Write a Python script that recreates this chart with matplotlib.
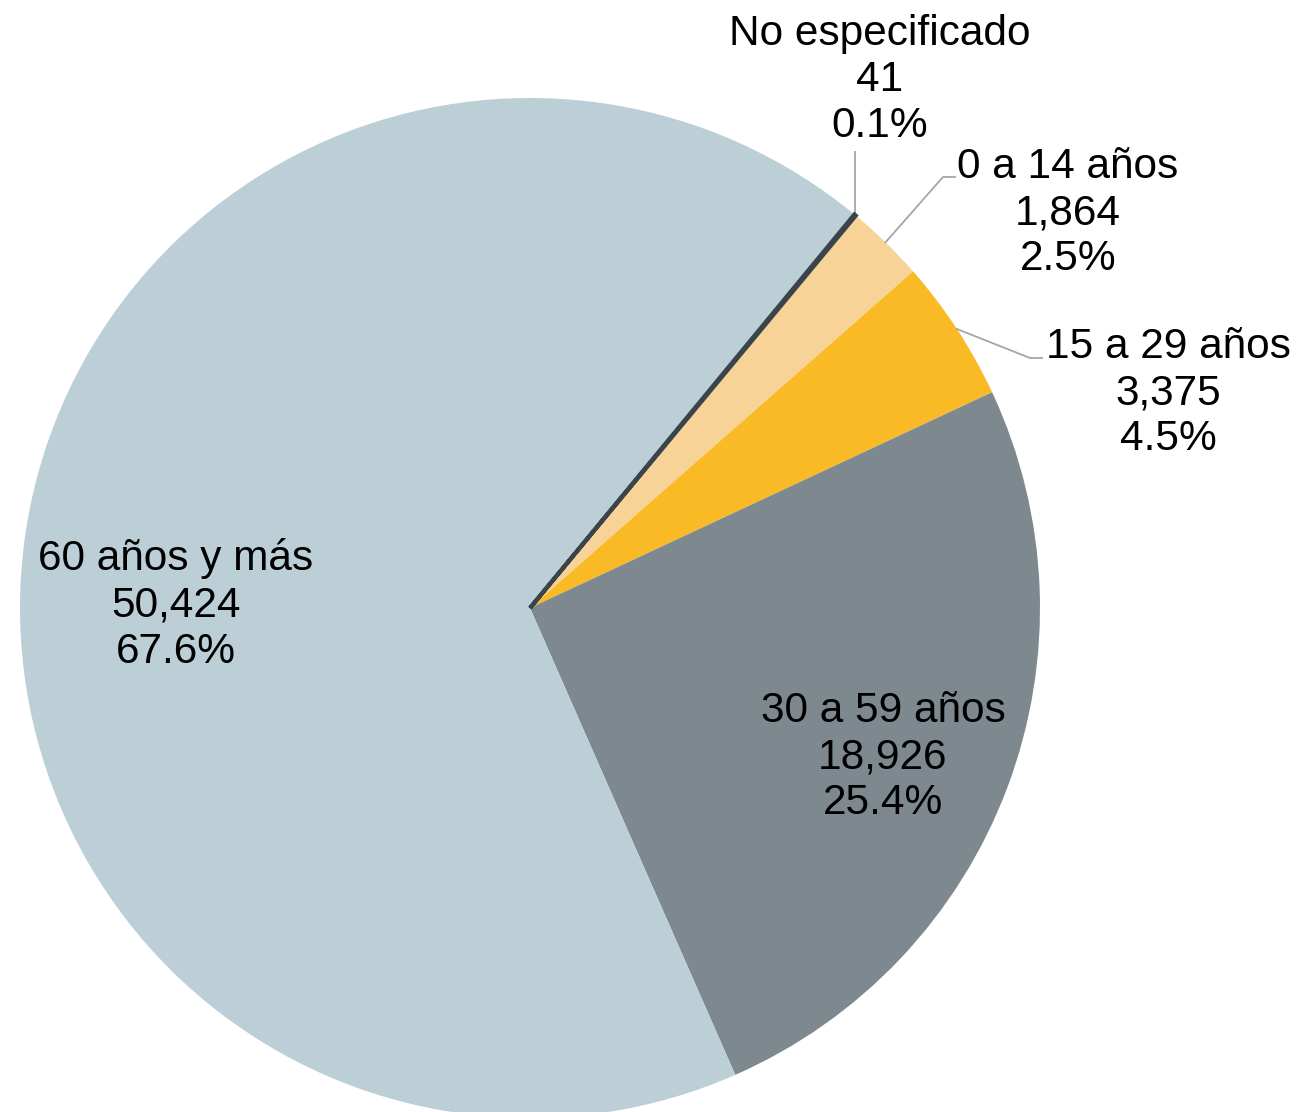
import numpy as np
import matplotlib
matplotlib.use("Agg")
import matplotlib.pyplot as plt

plt.rcParams['font.family'] = ['Liberation Sans', 'DejaVu Sans']

# Datos: defunciones por grupo de edad
categorias = ["No especificado", "0 a 14 años", "15 a 29 años", "30 a 59 años", "60 años y más"]
valores = [41, 1864, 3375, 18926, 50424]
colores = ["#3B444B", "#F8D398", "#F9BA26", "#7E898F", "#BCCFD6"]

total = sum(valores)

fig = plt.figure(figsize=(12.99, 11.12), dpi=100)
ax = fig.add_axes([0, 0, 1, 1])

cx, cy, r = 530, 504, 510
wedges, _ = ax.pie(valores, colors=colores, startangle=50.5, counterclock=False,
                   center=(cx, cy), radius=r, frame=True,
                   wedgeprops=dict(linewidth=0))
# la rebanada "No especificado" se ve como una línea oscura
wedges[0].set_edgecolor("#3B444B")
wedges[0].set_linewidth(3)
wedges[0].set_zorder(5)
ax.set_xlim(0, 1299)
ax.set_ylim(0, 1112)
ax.set_aspect('equal')
ax.axis('off')

def etiqueta(i):
    return f"{categorias[i]}\n{valores[i]:,}\n{valores[i] / total * 100:.1f}%"

fs = 30.5
# Etiquetas internas
ax.text(176, 1112 - 605, etiqueta(4), ha='center', va='center', fontsize=fs, linespacing=1.2)
ax.text(883, 1112 - 757, etiqueta(3), ha='center', va='center', fontsize=fs, linespacing=1.2)

# Etiquetas externas con líneas guía
externas = [
    (0, (880, 1112 - 80), [(855, 1112 - 152)]),
    (1, (1068, 1112 - 213), [(943, 1112 - 177), (955, 1112 - 177)]),
    (2, (1168, 1112 - 393), [(1030, 1112 - 358), (1042, 1112 - 358)]),
]
for i, pos, codo in externas:
    w = wedges[i]
    ang = np.deg2rad((w.theta1 + w.theta2) / 2)
    x0, y0 = cx + r * np.cos(ang), cy + r * np.sin(ang)
    xs = [x0] + [p[0] for p in codo]
    ys = [y0] + [p[1] for p in codo]
    if i == 0:
        xs[1] = x0
    ax.plot(xs, ys, color="#A6A6A6", lw=1.3)
    ax.text(pos[0], pos[1], etiqueta(i), ha='center', va='center', fontsize=fs, linespacing=1.2)

fig.savefig("out.png", dpi=100)
